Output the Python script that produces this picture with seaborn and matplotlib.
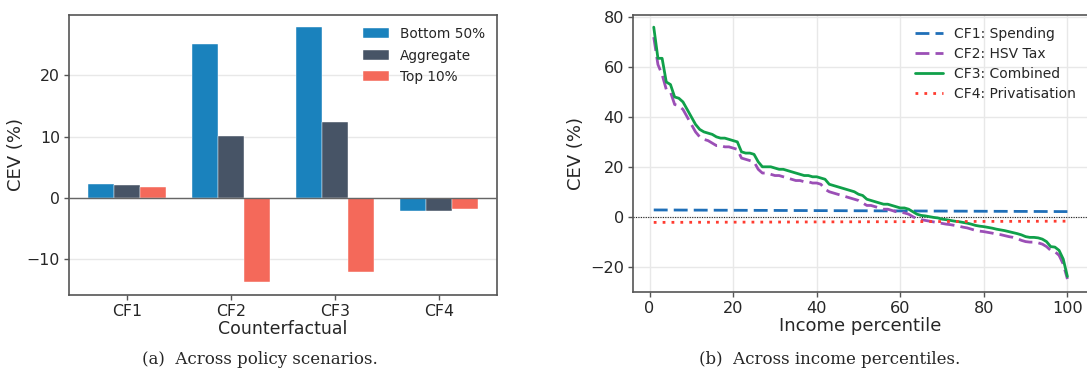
import numpy as np
import pandas as pd
import matplotlib
matplotlib.use("Agg")
import matplotlib.pyplot as plt
import seaborn as sns

# ---- Panel (a) data ----
counterfactuals = ["CF1", "CF2", "CF3", "CF4"]
groups = ["Bottom 50%", "Aggregate", "Top 10%"]
bottom50 = [2.25, 25.2, 27.9, -2.2]
aggregate = [2.1, 10.1, 12.4, -2.1]
top10 = [1.8, -13.8, -12.2, -1.85]

# ---- Panel (b) data ----
percentiles = list(range(1, 101))
cf1_spending = [2.70, 2.69, 2.69, 2.68, 2.67, 2.67, 2.66, 2.65, 2.65, 2.64,
                2.63, 2.63, 2.62, 2.61, 2.61, 2.60, 2.59, 2.59, 2.58, 2.57,
                2.57, 2.56, 2.55, 2.55, 2.54, 2.53, 2.53, 2.52, 2.51, 2.51,
                2.50, 2.49, 2.49, 2.48, 2.47, 2.47, 2.46, 2.45, 2.45, 2.44,
                2.43, 2.43, 2.42, 2.41, 2.41, 2.40, 2.39, 2.39, 2.38, 2.37,
                2.37, 2.36, 2.35, 2.35, 2.34, 2.33, 2.33, 2.32, 2.31, 2.31,
                2.30, 2.29, 2.29, 2.28, 2.27, 2.27, 2.26, 2.25, 2.25, 2.24,
                2.23, 2.23, 2.22, 2.21, 2.21, 2.20, 2.19, 2.19, 2.18, 2.17,
                2.17, 2.16, 2.15, 2.15, 2.14, 2.13, 2.13, 2.12, 2.11, 2.11,
                2.10, 2.09, 2.09, 2.08, 2.07, 2.07, 2.06, 2.05, 2.05, 2.04]
cf2_hsv_tax = [72, 61, 57, 51, 50, 45, 44.5, 43, 40, 37,
               34, 32, 31, 30.5, 29.5, 28.5, 28.5, 28, 28, 27.5,
               27, 23.5, 23, 22.5, 22, 19, 17.5, 17.5, 17, 16.5,
               16.5, 16, 15.5, 15, 14.5, 14.5, 14, 14, 13.5, 13.5,
               13, 11, 10, 9.5, 9, 8.5, 8, 7.5, 7, 6.5,
               5.5, 4.5, 4.5, 4, 3.5, 3, 3, 2.5, 2, 1.8,
               1.5, 1, 0, -0.8, -1.2, -1.5, -1.8, -2.1, -2.4, -2.7,
               -3, -3.2, -3.5, -3.8, -4.2, -4.5, -5, -5.5, -5.8, -6,
               -6.3, -6.6, -7, -7.2, -7.6, -8, -8.3, -8.8, -9.5, -10,
               -10.2, -10.2, -10.5, -11, -12, -13.5, -14, -15.5, -19, -25]
cf3_combined = [76, 63.5, 63.5, 54, 53, 48, 47.5, 46, 43, 40,
                37, 35, 34, 33.5, 33, 32, 31.5, 31.5, 31, 30.5,
                30, 26, 25.5, 25.5, 25, 22, 20, 20, 20, 19.5,
                19, 19, 18.5, 18, 17.5, 17, 16.5, 16.5, 16, 16,
                15.5, 15, 13, 12.5, 12, 11.5, 11, 10.5, 10, 9,
                8.5, 7, 6.5, 6, 5.5, 5, 5, 4.5, 4, 3.5,
                3.5, 3, 2, 1, 0.5, 0.3, 0, -0.3, -0.5, -1,
                -1.2, -1.5, -1.8, -2, -2.3, -2.6, -3, -3.5, -3.8, -4,
                -4.3, -4.6, -5, -5.3, -5.6, -6, -6.4, -6.8, -7.3, -8,
                -8.3, -8.3, -8.5, -9, -10, -12, -12.2, -13.5, -17, -24]
cf4_privatisation = [-2.30, -2.29, -2.29, -2.28, -2.28, -2.27, -2.27, -2.26, -2.26, -2.25,
                     -2.25, -2.24, -2.24, -2.23, -2.23, -2.22, -2.22, -2.21, -2.21, -2.20,
                     -2.20, -2.19, -2.19, -2.18, -2.18, -2.17, -2.17, -2.16, -2.16, -2.15,
                     -2.15, -2.14, -2.14, -2.13, -2.13, -2.12, -2.12, -2.11, -2.11, -2.10,
                     -2.10, -2.09, -2.09, -2.08, -2.08, -2.07, -2.07, -2.06, -2.06, -2.05,
                     -2.05, -2.04, -2.04, -2.03, -2.03, -2.02, -2.02, -2.01, -2.01, -2.00,
                     -2.00, -1.99, -1.99, -1.98, -1.98, -1.97, -1.97, -1.96, -1.96, -1.95,
                     -1.95, -1.94, -1.94, -1.93, -1.93, -1.92, -1.92, -1.91, -1.91, -1.90,
                     -1.90, -1.89, -1.89, -1.88, -1.88, -1.87, -1.87, -1.86, -1.86, -1.85,
                     -1.85, -1.84, -1.84, -1.83, -1.83, -1.82, -1.82, -1.81, -1.81, -1.80]

sns.set_theme(style="white")
plt.rcParams["font.family"] = ["DejaVu Sans"]

bar_colors = {"Bottom 50%": "#1a82bd", "Aggregate": "#475466", "Top 10%": "#f4695a"}
line_specs = [
    ("CF1: Spending", cf1_spending, "#1f6fb8", (0, (5, 2.2)), 2.0),
    ("CF2: HSV Tax", cf2_hsv_tax, "#9b4fb6", (0, (5, 2.2)), 2.0),
    ("CF3: Combined", cf3_combined, "#10a04a", "-", 2.0),
    ("CF4: Privatisation", cf4_privatisation, "#ff3b30", (0, (1, 2.2)), 2.0),
]

fig = plt.figure(figsize=(10.87, 3.69), dpi=100)
axa = fig.add_axes([0.0635, 0.2005, 0.394, 0.759])
axb = fig.add_axes([0.5824, 0.2087, 0.4186, 0.7515])

spine_col = "#555555"
grid_col = "#e8e8e8"

# ---- Panel (a) ----
df_a = pd.DataFrame({
    "Counterfactual": counterfactuals * 3,
    "Group": [g for g in groups for _ in counterfactuals],
    "CEV": bottom50 + aggregate + top10,
})
sns.barplot(data=df_a, x="Counterfactual", y="CEV", hue="Group",
            hue_order=groups, order=counterfactuals, palette=bar_colors,
            width=0.75, ax=axa, errorbar=None, edgecolor="#ffffff",
            linewidth=0.3, saturation=1, zorder=3)
axa.axhline(0, color="#666666", linewidth=1.0, zorder=4)
axa.set_xlim(-0.56, 3.56)
axa.set_ylim(-15.9, 29.9)
axa.set_yticks([-10, 0, 10, 20])
axa.yaxis.grid(True, color=grid_col, linewidth=1.0, zorder=0)
axa.set_axisbelow(True)
axa.set_xlabel("Counterfactual", fontsize=12.5, labelpad=1)
axa.set_ylabel("CEV (%)", fontsize=13)
axa.yaxis.set_label_coords(-0.103, 0.5)
axa.tick_params(axis="both", labelsize=11.3, length=3.5, width=1,
                color=spine_col, bottom=True, left=True, pad=3)
for s in axa.spines.values():
    s.set_color(spine_col)
    s.set_linewidth(1.2)
axa.legend(loc="upper right", frameon=False, fontsize=9.8,
           handlelength=1.9, handleheight=0.75, labelspacing=0.55,
           borderaxespad=0.5, handletextpad=0.8, title=None)

# ---- Panel (b) ----
for name, vals, col, ls, lw in line_specs:
    sns.lineplot(x=percentiles, y=vals, ax=axb, color=col, linestyle=ls,
                 linewidth=lw, label=name, zorder=3)
axb.axhline(0, color="#222222", linestyle=(0, (1, 1.2)), linewidth=0.8, zorder=2)
axb.set_xlim(-3.95, 104.95)
axb.set_ylim(-30.2, 81.0)
axb.set_xticks([0, 20, 40, 60, 80, 100])
axb.set_yticks([-20, 0, 20, 40, 60, 80])
axb.grid(True, color=grid_col, linewidth=1.0, zorder=0)
axb.set_axisbelow(True)
axb.set_xlabel("Income percentile", fontsize=13, labelpad=1)
axb.set_ylabel("CEV (%)", fontsize=13)
axb.yaxis.set_label_coords(-0.105, 0.5)
axb.tick_params(axis="both", labelsize=11.6, length=3.5, width=1,
                color=spine_col, bottom=True, left=True, pad=3)
for s in axb.spines.values():
    s.set_color(spine_col)
    s.set_linewidth(1.2)
axb.legend(loc="upper right", frameon=False, fontsize=10,
           handlelength=2.0, labelspacing=0.42, borderaxespad=0.5,
           handletextpad=0.8, bbox_to_anchor=(1.0, 1.0))

# ---- Captions ----
fig.text(0.239, 0.027, "(a)  Across policy scenarios.", ha="center", va="center",
         fontsize=12, family=["DejaVu Serif"])
fig.text(0.763, 0.027, "(b)  Across income percentiles.", ha="center", va="center",
         fontsize=12, family=["DejaVu Serif"])

fig.savefig("out.png", dpi=100, facecolor="white")
